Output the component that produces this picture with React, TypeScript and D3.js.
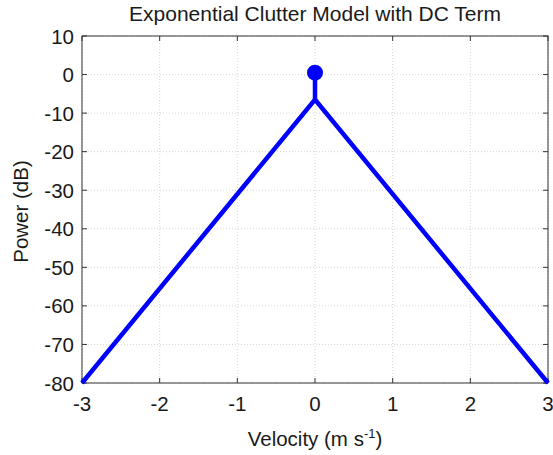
import React from "react";
import * as d3 from "d3";

const velocity = [-3, 0, 3];
const power = [-80, -6.5, -80];
const dcVelocity = [0, 0];
const dcPower = [-6.5, 0.5];
const xTicks = [-3, -2, -1, 0, 1, 2, 3];
const yTicks = [10, 0, -10, -20, -30, -40, -50, -60, -70, -80];

const W = 553, H = 455;
const M = { left: 82, right: 5, top: 36, bottom: 72 };

export default function App() {
  const x = d3.scaleLinear().domain([-3, 3]).range([M.left, W - M.right]);
  const y = d3.scaleLinear().domain([-80, 10]).range([H - M.bottom, M.top]);
  const line = d3.line<number>().x((_, i) => x(velocity[i])).y((d) => y(d));
  const dcLine = d3.line<number>().x((_, i) => x(dcVelocity[i])).y((d) => y(d));
  const x0 = x(-3), x1 = x(3), y0 = y(-80), y1 = y(10);
  const font = "Liberation Sans, Arial, sans-serif";
  const fs = 20.5;
  return (
    <svg width={W} height={H} style={{ position: "absolute", left: 0, top: 0, background: "#fff" }}>
      <rect x={0} y={0} width={W} height={H} fill="#fff" />
      {xTicks.map((t) => (
        <line key={"gx" + t} x1={x(t)} x2={x(t)} y1={y0} y2={y1} stroke="#ccc" strokeDasharray="1,2" strokeWidth={0.8} />
      ))}
      {yTicks.map((t) => (
        <line key={"gy" + t} x1={x0} x2={x1} y1={y(t)} y2={y(t)} stroke="#ccc" strokeDasharray="1,2" strokeWidth={0.8} />
      ))}
      {xTicks.map((t) => (
        <g key={"tx" + t}>
          <line x1={x(t)} x2={x(t)} y1={y0} y2={y0 - 5} stroke="#333" />
          <line x1={x(t)} x2={x(t)} y1={y1} y2={y1 + 5} stroke="#333" />
          <text x={x(t)} y={y0 + 28} textAnchor="middle" fontFamily={font} fontSize={fs} fill="#1a1a1a">{t}</text>
        </g>
      ))}
      {yTicks.map((t) => (
        <g key={"ty" + t}>
          <line x1={x0} x2={x0 + 5} y1={y(t)} y2={y(t)} stroke="#333" />
          <line x1={x1} x2={x1 - 5} y1={y(t)} y2={y(t)} stroke="#333" />
          <text x={x0 - 8} y={y(t) + 7.5} textAnchor="end" fontFamily={font} fontSize={fs} fill="#1a1a1a">{t}</text>
        </g>
      ))}
      <rect x={x0} y={y1} width={x1 - x0} height={y0 - y1} fill="none" stroke="#333" strokeWidth={1} />
      <path d={line(power) || ""} fill="none" stroke="#0000ff" strokeWidth={4.5} strokeLinejoin="miter" />
      <path d={dcLine(dcPower) || ""} fill="none" stroke="#0000ff" strokeWidth={4.5} />
      <circle cx={x(dcVelocity[1])} cy={y(dcPower[1])} r={8} fill="#0000ff" />
      <text x={(x0 + x1) / 2} y={21} textAnchor="middle" fontFamily={font} fontSize={21} fill="#1a1a1a">Exponential Clutter Model with DC Term</text>
      <text x={(x0 + x1) / 2} y={446} textAnchor="middle" fontFamily={font} fontSize={fs} fill="#1a1a1a">
        Velocity (m s<tspan dy={-8} fontSize={13}>-1</tspan><tspan dy={8}>)</tspan>
      </text>
      <text transform={`translate(28,${(y0 + y1) / 2 + 2}) rotate(-90)`} textAnchor="middle" fontFamily={font} fontSize={fs} fill="#1a1a1a">Power (dB)</text>
    </svg>
  );
}
